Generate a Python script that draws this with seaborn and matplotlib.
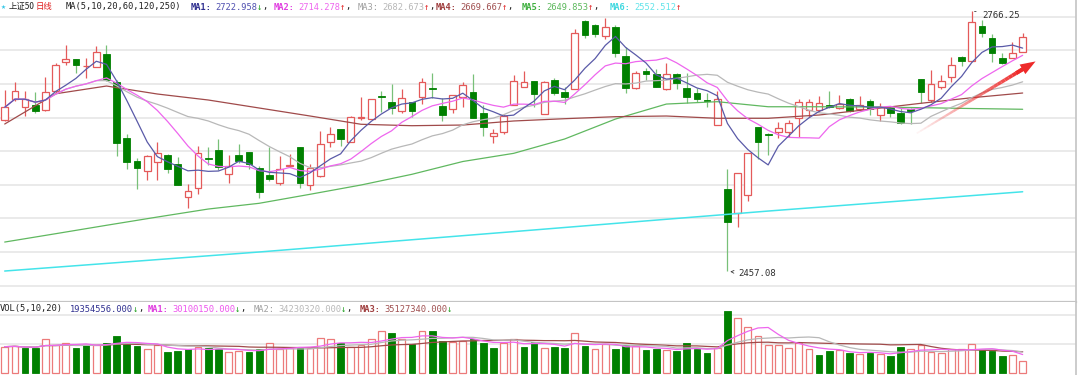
import numpy as np
import pandas as pd
import matplotlib
matplotlib.use('Agg')
import matplotlib.pyplot as plt
from matplotlib.collections import LineCollection
import seaborn as sns

sns.set_theme(style='white')
plt.rcParams['font.family'] = ['DejaVu Sans Mono', 'Noto Sans CJK SC']

# daily candles (price points)
opens = [2636.9, 2661.8, 2652.7, 2654.3, 2648.7, 2671.3, 2706.1, 2709.3, 2700.5, 2699.4,
         2715.2, 2682.3, 2615.1, 2588.5, 2576.7, 2586.7, 2595.3, 2584.6, 2545.1, 2556.5,
         2591.8, 2601.3, 2572.8, 2595.3, 2598.5, 2579.5, 2571.6, 2562.4, 2582.6, 2604.5,
         2559.7, 2570.7, 2611.1, 2625.8, 2611.1, 2638.7, 2637.7, 2665.3, 2658.6, 2647.9,
         2658.6, 2663.8, 2675.3, 2653.5, 2649.6, 2663.8, 2670.1, 2644.8, 2617.9, 2623.1,
         2654.7, 2676.4, 2683.2, 2644.0, 2684.3, 2670.5, 2673.3, 2754.7, 2749.6, 2736.6,
         2747.6, 2712.8, 2675.2, 2695.0, 2691.5, 2673.7, 2691.5, 2675.2, 2669.3, 2661.0,
         2630.9, 2555.0, 2526.1, 2547.8, 2628.2, 2619.9, 2623.0, 2623.0, 2638.9, 2648.7,
         2648.7, 2654.7, 2650.8, 2661.8, 2649.6, 2659.8, 2642.8, 2650.7, 2645.5, 2650.3,
         2685.2, 2660.6, 2675.7, 2687.5, 2712.0, 2707.3, 2748.4, 2733.8, 2710.1, 2710.1,
         2717.2]
highs = [2672.5, 2681.6, 2671.3, 2669.7, 2688.3, 2704.2, 2725.9, 2709.3, 2710.1, 2724.7,
         2725.9, 2684.3, 2620.2, 2592.1, 2595.3, 2610.4, 2596.5, 2593.3, 2560.9, 2606.0,
         2605.2, 2614.3, 2595.0, 2608.4, 2599.2, 2582.3, 2605.2, 2594.1, 2596.5, 2605.2,
         2584.6, 2624.2, 2628.2, 2625.8, 2641.6, 2663.8, 2661.4, 2671.3, 2679.6, 2673.3,
         2658.6, 2686.4, 2693.0, 2662.6, 2666.5, 2682.3, 2691.5, 2654.7, 2625.8, 2644.0,
         2690.3, 2695.0, 2683.2, 2683.0, 2686.4, 2675.7, 2744.5, 2755.6, 2750.8, 2757.6,
         2749.6, 2723.2, 2695.5, 2698.2, 2697.0, 2704.2, 2692.5, 2692.3, 2674.5, 2669.3,
         2671.6, 2578.3, 2574.3, 2597.3, 2628.9, 2621.1, 2634.8, 2636.9, 2661.4, 2661.4,
         2665.3, 2671.6, 2666.5, 2662.6, 2665.3, 2661.4, 2656.7, 2653.5, 2650.7, 2650.7,
         2685.2, 2696.2, 2690.3, 2711.3, 2712.8, 2766.25, 2755.6, 2738.9, 2716.7, 2729.8,
         2740.5]
lows = [2635.7, 2659.8, 2641.6, 2644.8, 2647.9, 2668.6, 2702.1, 2692.3, 2686.4, 2699.4,
        2683.5, 2594.1, 2578.3, 2555.0, 2565.6, 2565.6, 2573.6, 2559.7, 2532.8, 2548.7,
        2583.4, 2577.5, 2561.7, 2585.5, 2578.3, 2543.9, 2564.8, 2559.7, 2580.7, 2555.8,
        2553.8, 2569.5, 2605.2, 2606.0, 2611.1, 2636.9, 2637.7, 2646.7, 2644.0, 2644.8,
        2640.8, 2655.9, 2662.6, 2636.0, 2644.8, 2652.6, 2638.9, 2617.9, 2609.2, 2620.2,
        2654.7, 2675.7, 2652.6, 2644.0, 2666.5, 2655.9, 2673.3, 2733.8, 2735.0, 2732.7,
        2712.0, 2669.3, 2674.0, 2684.3, 2675.7, 2672.5, 2673.3, 2656.7, 2658.6, 2652.6,
        2630.9, 2457.08, 2509.5, 2541.1, 2590.8, 2595.3, 2615.1, 2616.3, 2616.3, 2640.1,
        2646.7, 2650.8, 2649.6, 2646.7, 2648.7, 2642.8, 2636.0, 2640.1, 2632.1, 2632.1,
        2657.4, 2658.6, 2673.3, 2682.3, 2701.0, 2707.3, 2735.7, 2706.1, 2703.3, 2710.1,
        2717.2]
closes = [2651.9, 2671.3, 2661.4, 2647.5, 2670.5, 2702.5, 2708.9, 2702.1, 2701.5, 2717.9,
          2684.3, 2609.2, 2586.7, 2579.5, 2594.1, 2597.3, 2578.7, 2559.7, 2552.9, 2598.1,
          2590.2, 2580.7, 2582.3, 2588.2, 2584.6, 2551.8, 2566.8, 2578.7, 2584.0, 2561.7,
          2579.5, 2608.4, 2619.9, 2614.0, 2640.1, 2640.6, 2661.4, 2663.6, 2650.7, 2662.6,
          2647.9, 2682.3, 2673.5, 2642.8, 2666.5, 2678.4, 2638.9, 2628.2, 2621.1, 2641.6,
          2683.5, 2682.3, 2667.7, 2681.6, 2668.6, 2663.8, 2739.8, 2737.8, 2739.0, 2746.9,
          2716.7, 2674.5, 2693.0, 2691.5, 2676.4, 2691.5, 2680.4, 2664.5, 2661.8, 2660.0,
          2661.4, 2516.1, 2574.3, 2597.3, 2611.1, 2619.0, 2627.7, 2633.7, 2657.9, 2658.6,
          2657.4, 2651.9, 2655.9, 2647.9, 2654.7, 2649.6, 2652.6, 2644.8, 2633.0, 2647.2,
          2670.5, 2679.6, 2683.5, 2702.1, 2707.3, 2752.8, 2739.8, 2716.0, 2704.2, 2716.0,
          2735.0]
# volume in millions of shares
volumes = [43.2, 44.4, 40.3, 41.5, 55.9, 45.5, 50.1, 41.5, 46.1, 45.5,
           50.1, 60.5, 50.1, 43.8, 38.6, 45.5, 34.6, 35.7, 38.6, 43.2,
           40.3, 38.6, 34.6, 36.3, 34.6, 38.6, 50.1, 38.6, 40.3, 42.6,
           41.5, 57.6, 55.9, 50.1, 43.2, 45.5, 55.9, 68.5, 65.7, 55.9,
           47.2, 68.5, 68.5, 53.0, 51.3, 53.0, 55.9, 50.1, 41.5, 50.1,
           55.9, 43.2, 51.3, 41.5, 43.2, 41.5, 65.7, 44.4, 38.6, 47.2,
           39.7, 45.5, 44.4, 36.9, 38.6, 36.9, 35.7, 50.1, 39.7, 32.8,
           41.5, 103.1, 90.4, 76.0, 60.5, 45.5, 45.5, 41.5, 50.1, 38.6,
           30.0, 35.7, 36.9, 32.8, 31.1, 32.8, 31.7, 28.2, 42.6, 39.7,
           45.5, 34.0, 32.8, 38.6, 38.6, 47.2, 38.6, 35.7, 27.1, 30.0,
           19.35]

# long moving averages, every 5 bars
ma_long_idx = [0, 5, 10, 15, 20, 25, 30, 35, 40, 45, 50, 55, 60, 65, 70, 75, 80, 85, 90, 95, 100]
ma60 = [2632.1, 2668.0, 2677.2, 2667.7, 2660.6, 2651.1, 2641.6, 2631.8, 2630.1, 2630.9, 2635.7,
        2638.4, 2640.8, 2641.6, 2638.9, 2638.9, 2642.8, 2649.6, 2656.7, 2663.3, 2668.9]
ma120 = [2492.0, 2501.9, 2511.9, 2521.7, 2531.2, 2538.0, 2548.7, 2559.7, 2572.4, 2587.6, 2597.3,
         2614.3, 2638.0, 2655.8, 2658.6, 2652.6, 2652.6, 2652.3, 2651.5, 2650.5, 2649.6]
ma250_idx = [0, 25, 50, 75, 100]
ma250 = [2457.6, 2480.2, 2504.4, 2528.8, 2551.7]

df = pd.DataFrame({'open': opens, 'high': highs, 'low': lows, 'close': closes, 'vol': volumes})
df['i'] = np.arange(len(df))
for w in (5, 10, 20):
    df[f'ma{w}'] = df['close'].rolling(w, min_periods=1).mean()
    df[f'vma{w}'] = df['vol'].rolling(w, min_periods=1).mean()

RED = '#e45a5a'
VRED = '#ec7a7a'
GREEN = '#008000'
GWICK = '#78c078'
C_MA1, C_MA2, C_MA3 = '#5a5aa8', '#ee66ee', '#b8b8b8'
C_MA4, C_MA5, C_MA6 = '#a04a4a', '#60b860', '#44e4ea'
GRID = '#e6e6e6'
BORDER = '#c4c4c4'

W, H = 1080, 375
fig = plt.figure(figsize=(W / 100, H / 100), dpi=100)
fig.patch.set_facecolor('white')
sep = 301.7
right = 1076 / W
ax = fig.add_axes([0, 1 - sep / H, right, sep / H])
axv = fig.add_axes([0, 0, right, 1 - sep / H])

xlim = (-0.462, 105.24)

# ---- price panel
ax.set_xlim(*xlim)
ax.set_ylim(2421.2, 2779.3)
for g in 2759.5 - 39.9 * np.arange(9):
    ax.axhline(g, color=GRID, lw=1.2, zorder=0)

up = (df['close'] >= df['open']).values
x = df['i'].values
ax.vlines(x[up], df['low'][up], df['high'][up], color=RED, lw=0.9, zorder=2)
ax.vlines(x[~up], df['low'][~up], df['high'][~up], color=GWICK, lw=0.9, zorder=2)
body = np.maximum((df['close'] - df['open']).abs().values, 0.7)
ax.bar(x[up], body[up], bottom=df['open'][up], width=0.66, facecolor='white',
       edgecolor=RED, lw=0.9, zorder=3)
ax.bar(x[~up], body[~up], bottom=df['close'][~up], width=0.66, color=GREEN,
       edgecolor=GREEN, lw=0.6, zorder=3)

sns.lineplot(x=ma250_idx, y=ma250, ax=ax, color=C_MA6, lw=1.1, zorder=4)
sns.lineplot(x=ma_long_idx, y=ma120, ax=ax, color=C_MA5, lw=0.9, zorder=4)
sns.lineplot(x=ma_long_idx, y=ma60, ax=ax, color=C_MA4, lw=0.9, zorder=4)
sns.lineplot(data=df, x='i', y='ma20', ax=ax, color=C_MA3, lw=0.9, zorder=4)
sns.lineplot(data=df, x='i', y='ma10', ax=ax, color=C_MA2, lw=0.9, zorder=4)
sns.lineplot(data=df, x='i', y='ma5', ax=ax, color=C_MA1, lw=0.9, zorder=4)

ihi = int(np.argmax(highs))
ilo = int(np.argmin(lows))
ax.annotate(f'{highs[ihi]:.2f}', xy=(ihi, highs[ihi]), xytext=(7.5, -3), textcoords='offset points',
            fontsize=6.5, color='#303030', va='center',
            arrowprops=dict(arrowstyle='-', color='#404040', lw=0.6))
ax.annotate(f'{lows[ilo]:.2f}', xy=(ilo, lows[ilo]), xytext=(7.5, -1.2), textcoords='offset points',
            fontsize=6.5, color='#303030', va='center',
            arrowprops=dict(arrowstyle='->', color='#404040', lw=0.6, mutation_scale=5))

# red trend arrow: fading tail plus solid head
tail0, tip = np.array([89.6, 2621.1]), np.array([101.5, 2708.1])
t = np.linspace(0, 0.88, 30)
pts = tail0 + np.outer(t, tip - tail0)
segs = np.stack([pts[:-1], pts[1:]], axis=1)
fade = np.linspace(0.05, 1, len(segs))
lc = LineCollection(segs, colors=[(0.93, 0.16, 0.16, a) for a in fade],
                    linewidths=np.linspace(1.2, 2.8, len(segs)), capstyle='butt', zorder=5)
ax.add_collection(lc)
ax.annotate('', xy=tuple(tip), xytext=tuple(tail0 + 0.8 * (tip - tail0)),
            arrowprops=dict(arrowstyle='simple,head_length=1.1,head_width=0.8,tail_width=0.28',
                            color='#ee2a2a', mutation_scale=10, lw=0), zorder=6)

ax.set_xticks([])
ax.set_yticks([])
ax.set_xlabel('')
ax.set_ylabel('')
for s in ('top', 'left'):
    ax.spines[s].set_visible(False)
ax.spines['right'].set_color(BORDER)
ax.spines['right'].set_linewidth(1.2)
ax.spines['bottom'].set_color(BORDER)
ax.spines['bottom'].set_linewidth(1.6)

# ---- volume panel
axv.set_xlim(*xlim)
axv.set_ylim(-3.8, 117.9)
for g in (47.1, 96.2):
    axv.axhline(g, color=GRID, lw=1.2, zorder=0)
vup = np.r_[True, np.diff(df['close'].values) >= 0]
axv.bar(x[vup], df['vol'][vup], width=0.66, facecolor='white', edgecolor=VRED, lw=0.9, zorder=2)
axv.bar(x[~vup], df['vol'][~vup], width=0.66, color=GREEN, edgecolor=GREEN, lw=0.6, zorder=2)
sns.lineplot(data=df, x='i', y='vma20', ax=axv, color=C_MA4, lw=0.9, zorder=3)
sns.lineplot(data=df, x='i', y='vma10', ax=axv, color=C_MA3, lw=0.9, zorder=3)
sns.lineplot(data=df, x='i', y='vma5', ax=axv, color=C_MA2, lw=0.9, zorder=3)
axv.set_xticks([])
axv.set_yticks([])
axv.set_xlabel('')
axv.set_ylabel('')
for s in ('bottom', 'left', 'top'):
    axv.spines[s].set_visible(False)
axv.spines['right'].set_color(BORDER)
axv.spines['right'].set_linewidth(1.2)

# ---- header texts, laid out left to right
FS = 6.3
MONO = ['DejaVu Sans Mono', 'Noto Sans CJK SC']
CJK = ['Noto Sans CJK SC', 'DejaVu Sans']
UPC, DNC, TXT = '#e02020', '#20a020', '#202020'
renderer = fig.canvas.get_renderer()


def put(xp, yp, s, color, bold=False, family=None, fs=FS):
    t = fig.text(xp / W, 1 - yp / H, s, color=color, fontsize=fs, va='center', ha='left',
                 fontweight='bold' if bold else 'normal', family=family if family else MONO)
    return t.get_window_extent(renderer).width


def group(xp, yp, parts):
    for s, c, b, gap in parts:
        xp += put(xp, yp, s, c, bold=b) + gap


ty = 7
put(1, ty, '★', '#38c8e8', fs=6)
w = put(9, ty, '上证50', TXT, family=CJK, fs=6.0)
put(9 + w + 1, ty, '日线', '#e02020', family=CJK, fs=6.0)
put(66, ty, 'MA(5,10,20,60,120,250)', TXT)
for xp, name, cn, val, cv, arr, last in [
        (191, 'MA1:', '#303090', '2722.958', '#5050b0', '↓', False),
        (274, 'MA2:', '#e040e0', '2714.278', '#ee66ee', '↑', False),
        (358, 'MA3:', '#a0a0a0', '2682.673', '#b8b8b8', '↑', False),
        (436, 'MA4:', '#a04040', '2669.667', '#a05050', '↑', False),
        (522, 'MA5:', '#40b040', '2649.853', '#5cb85c', '↑', False),
        (610, 'MA6:', '#40d8e0', '2552.512', '#60e4ea', '↑', True)]:
    parts = [(name, cn, name != 'MA3:', 3), (val, cv, False, 0),
             (arr, UPC if arr == '↑' else DNC, False, 0)]
    if not last:
        parts.append((',', TXT, False, 0))
    group(xp, ty, parts)

vy = 309
put(0, vy, 'VOL(5,10,20)', TXT)
group(70, vy, [('19354556.000', '#303090', False, 0), ('↓', DNC, False, 0), (',', TXT, False, 0)])
for xp, name, cn, val, cv, last in [
        (148, 'MA1:', '#e040e0', '30100150.000', '#ee55ee', False),
        (254, 'MA2:', '#a0a0a0', '34230320.000', '#b8b8b8', False),
        (360, 'MA3:', '#a04040', '35127340.000', '#a05050', True)]:
    parts = [(name, cn, name != 'MA2:', 3), (val, cv, False, 0), ('↓', DNC, False, 0)]
    if not last:
        parts.append((',', TXT, False, 0))
    group(xp, vy, parts)

fig.savefig('out.png', dpi=100)
